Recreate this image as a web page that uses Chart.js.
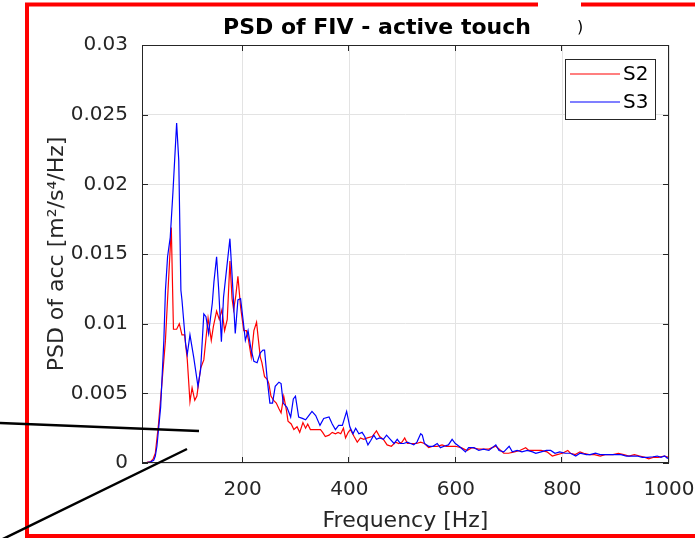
<!DOCTYPE html>
<html>
<head>
<meta charset="utf-8">
<script src="https://cdn.jsdelivr.net/npm/chart.js@4.4.1/dist/chart.umd.min.js"></script>
<style>
  html, body { margin: 0; padding: 0; background: #fff; }
  #wrap { width: 695px; height: 538px; }
</style>
</head>
<body>
<div id="wrap"><canvas id="psdChart" width="695" height="538"></canvas></div>
<script>
// values (Hz, m^2/s^4/Hz)
var freqS2 = [12, 20, 27, 32, 36, 42, 49, 55, 60, 66, 70, 76, 81, 86, 91, 96, 101, 105, 110, 114, 121, 127, 135, 141, 145, 151, 156, 161, 166, 171, 176, 180, 183, 187, 191, 196, 202, 207, 211, 216, 221, 226, 229, 233, 236, 241, 246, 249, 253, 258, 263, 268, 272, 277, 282, 285, 291, 296, 302, 307, 313, 318, 322, 327, 333, 340, 346, 350, 355, 362, 368, 374, 379, 384, 389, 393, 398, 402, 409, 415, 421, 427, 434, 443, 451, 457, 464, 471, 479, 487, 493, 499, 504, 509, 518, 526, 534, 541, 549, 557, 565, 574, 582, 590, 599, 610, 621, 630, 643, 655, 662, 668, 675, 681, 690, 699, 710, 720, 731, 737, 746, 760, 771, 781, 790, 800, 810, 815, 824, 833, 840, 850, 860, 871, 880, 895, 905, 915, 925, 935, 945, 955, 962, 970, 980, 991, 1000];
var psdS2 = [0, 0.00005, 0.0001, 0.0003, 0.0007, 0.0028, 0.006, 0.0088, 0.0125, 0.0169, 0.0096, 0.0096, 0.0100, 0.0092, 0.0092, 0.0074, 0.0044, 0.0054, 0.0045, 0.0048, 0.0068, 0.0074, 0.0104, 0.0088, 0.0098, 0.0109, 0.0103, 0.0110, 0.0095, 0.0103, 0.0145, 0.0118, 0.0110, 0.0120, 0.0134, 0.0112, 0.0095, 0.0095, 0.0088, 0.0076, 0.0095, 0.0101, 0.0090, 0.0076, 0.0072, 0.0062, 0.0060, 0.0057, 0.0048, 0.0045, 0.0043, 0.0039, 0.0036, 0.0048, 0.0038, 0.0030, 0.0028, 0.0024, 0.0026, 0.0022, 0.0029, 0.0025, 0.0028, 0.0024, 0.0024, 0.0024, 0.0024, 0.0022, 0.0019, 0.0020, 0.0022, 0.0021, 0.0022, 0.0021, 0.0025, 0.0018, 0.0022, 0.0024, 0.0019, 0.0015, 0.0018, 0.0017, 0.0018, 0.0019, 0.0023, 0.0019, 0.0017, 0.0013, 0.0012, 0.0015, 0.0014, 0.0015, 0.0018, 0.0014, 0.0014, 0.0014, 0.0015, 0.0014, 0.0011, 0.0012, 0.0012, 0.0013, 0.0012, 0.0012, 0.0012, 0.0011, 0.0009, 0.0011, 0.0010, 0.0010, 0.0010, 0.0011, 0.0012, 0.0010, 0.0007, 0.0007, 0.0008, 0.0009, 0.0011, 0.0009, 0.0009, 0.0009, 0.0008, 0.0005, 0.0006, 0.0007, 0.0009, 0.0007, 0.0006, 0.0008, 0.0007, 0.0006, 0.0006, 0.0005, 0.0006, 0.0006, 0.0007, 0.0006, 0.0005, 0.0006, 0.0005, 0.0004, 0.0003, 0.0004, 0.0004, 0.0005, 0.0004];

var freqS3 = [12, 20, 27, 33, 36, 39, 46, 52, 55, 59, 64, 69, 76, 80, 84, 86, 93, 96, 101, 108, 116, 121, 127, 131, 136, 143, 146, 151, 155, 160, 164, 170, 176, 180, 186, 191, 196, 200, 205, 210, 215, 221, 227, 233, 238, 241, 246, 251, 256, 261, 268, 272, 276, 283, 290, 295, 299, 305, 312, 318, 324, 330, 337, 345, 352, 362, 368, 374, 380, 387, 395, 401, 407, 412, 418, 424, 429, 435, 440, 446, 451, 457, 464, 470, 477, 484, 490, 496, 502, 509, 515, 521, 527, 534, 537, 541, 549, 557, 565, 571, 578, 586, 593, 599, 606, 612, 618, 624, 634, 643, 652, 662, 675, 681, 690, 700, 706, 715, 724, 734, 744, 750, 760, 770, 778, 786, 795, 805, 815, 825, 833, 845, 852, 862, 871, 880, 890, 900, 910, 920, 930, 940, 950, 960, 970, 978, 985, 992, 997, 1000];
var psdS3 = [0, 0.00003, 0.00008, 0.0002, 0.0005, 0.0012, 0.0040, 0.0088, 0.0124, 0.0148, 0.0162, 0.0194, 0.0244, 0.0217, 0.0124, 0.0117, 0.0085, 0.0078, 0.0092, 0.0076, 0.0055, 0.0067, 0.0107, 0.0105, 0.0093, 0.0115, 0.0130, 0.0148, 0.0124, 0.0087, 0.0119, 0.0140, 0.0161, 0.0135, 0.0093, 0.0117, 0.0118, 0.0105, 0.0088, 0.0095, 0.0083, 0.0073, 0.0072, 0.0079, 0.0081, 0.0081, 0.0060, 0.0043, 0.0043, 0.0055, 0.0058, 0.0057, 0.0043, 0.0040, 0.0033, 0.0046, 0.0048, 0.0033, 0.0032, 0.0031, 0.0034, 0.0037, 0.0034, 0.0027, 0.0032, 0.0033, 0.0028, 0.0024, 0.0027, 0.0027, 0.0037, 0.0026, 0.0021, 0.0025, 0.0021, 0.0022, 0.0019, 0.0013, 0.0016, 0.0020, 0.0017, 0.0018, 0.0017, 0.0020, 0.0017, 0.0014, 0.0017, 0.0014, 0.0014, 0.0015, 0.0014, 0.0013, 0.0015, 0.0021, 0.0020, 0.0014, 0.0012, 0.0012, 0.0014, 0.0011, 0.0012, 0.0013, 0.0017, 0.0014, 0.0012, 0.0010, 0.0008, 0.0011, 0.0011, 0.0009, 0.0010, 0.0009, 0.0013, 0.0009, 0.0008, 0.0012, 0.0008, 0.0009, 0.0008, 0.0009, 0.0008, 0.0007, 0.0008, 0.0009, 0.0009, 0.0007, 0.0008, 0.0007, 0.0007, 0.0005, 0.0007, 0.0006, 0.0006, 0.0007, 0.0006, 0.0006, 0.0006, 0.0006, 0.0006, 0.0005, 0.0005, 0.0005, 0.0004, 0.0004, 0.00045, 0.0005, 0.0004, 0.0005, 0.00034, 0.0004];

var xTicks = [200, 400, 600, 800, 1000];
var yTicks = [0, 0.005, 0.01, 0.015, 0.02, 0.025, 0.03];
var seriesNames = ['S2', 'S3'];

var FONT = 'DejaVu Sans, Liberation Sans, Arial, sans-serif';
var AXIS = '#262626';

function toPoints(xs, ys) {
    return xs.map(function (x, i) { return { x: x, y: ys[i] }; });
}

// MATLAB-like box, inward ticks, title, legend and the marks drawn on the screenshot
var decorations = {
    id: 'decorations',
    afterDatasetsDraw: function (chart) {
        var ctx = chart.ctx, a = chart.chartArea;
        var xs = chart.scales.x, ys = chart.scales.y;
        ctx.save();
        ctx.strokeStyle = AXIS;
        ctx.lineWidth = 1;
        ctx.strokeRect(Math.round(a.left) + 0.5, Math.round(a.top) + 0.5,
            Math.round(a.right - a.left) - 1, Math.round(a.bottom - a.top) - 1);
        ctx.beginPath();
        xs.ticks.forEach(function (t) {
            var px = Math.round(xs.getPixelForValue(t.value)) - 0.5;
            ctx.moveTo(px, a.bottom); ctx.lineTo(px, a.bottom - 6);
            ctx.moveTo(px, a.top); ctx.lineTo(px, a.top + 6);
        });
        ys.ticks.forEach(function (t) {
            var py = Math.round(ys.getPixelForValue(t.value)) + 0.5;
            ctx.moveTo(a.left, py); ctx.lineTo(a.left + 6, py);
            ctx.moveTo(a.right, py); ctx.lineTo(a.right - 6, py);
        });
        ctx.stroke();
        ctx.restore();
    },
    afterDraw: function (chart) {
        var ctx = chart.ctx;
        ctx.save();

        // title
        ctx.fillStyle = '#000';
        ctx.font = 'bold 22px ' + FONT;
        ctx.textAlign = 'center';
        ctx.textBaseline = 'middle';
        ctx.fillText('PSD of FIV - active touch', 377, 28);
        ctx.font = '16px ' + FONT;
        ctx.fillText(')', 580, 28);

        // legend
        var lx = 565, ly = 59, lw = 90, lh = 60;
        ctx.fillStyle = '#fff';
        ctx.fillRect(lx, ly, lw, lh);
        ctx.strokeStyle = AXIS;
        ctx.lineWidth = 1;
        ctx.strokeRect(lx + 0.5, ly + 0.5, lw, lh);
        chart.data.datasets.forEach(function (ds, i) {
            var yy = 74 + i * 28;
            ctx.strokeStyle = ds.borderColor;
            ctx.lineWidth = 1.2;
            ctx.beginPath();
            ctx.moveTo(570, yy); ctx.lineTo(620, yy);
            ctx.stroke();
            ctx.fillStyle = '#000';
            ctx.font = '20px ' + FONT;
            ctx.textAlign = 'left';
            ctx.fillText(seriesNames[i], 623, yy + 1);
        });

        // red frame
        ctx.strokeStyle = '#ff0000';
        ctx.lineWidth = 4;
        ctx.beginPath();
        ctx.moveTo(695, 4.5); ctx.lineTo(27, 4.5); ctx.lineTo(27, 536); ctx.lineTo(695, 536);
        ctx.stroke();
        ctx.fillStyle = '#fff';
        ctx.fillRect(538, 0, 43, 10);

        // black strokes
        ctx.strokeStyle = '#000';
        ctx.lineWidth = 2.5;
        ctx.beginPath();
        ctx.moveTo(0, 423); ctx.lineTo(199, 431);
        ctx.moveTo(0, 540.4); ctx.lineTo(187, 449);
        ctx.stroke();

        ctx.restore();
    }
};

var chart = new Chart(document.getElementById('psdChart'), {
    type: 'line',
    data: {
        datasets: [{
            label: seriesNames[0],
            data: toPoints(freqS2, psdS2),
            borderColor: '#ff0000',
            borderWidth: 1.2,
            pointRadius: 0,
            tension: 0,
            order: 2
        }, {
            label: seriesNames[1],
            data: toPoints(freqS3, psdS3),
            borderColor: '#0000ff',
            borderWidth: 1.2,
            pointRadius: 0,
            tension: 0,
            order: 1
        }]
    },
    options: {
        responsive: false,
        animation: false,
        devicePixelRatio: 1,
        layout: { padding: { top: 45, right: 26, left: 0, bottom: 0 } },
        plugins: {
            legend: { display: false },
            title: { display: false },
            tooltip: { enabled: false }
        },
        scales: {
            x: {
                type: 'linear',
                min: 11,
                max: 1000,
                afterBuildTicks: function (s) { s.ticks = xTicks.map(function (v) { return { value: v }; }); },
                afterFit: function (s) { s.height = 75; s.paddingLeft = 0; s.paddingRight = 0; },
                grid: { color: '#e3e3e3', drawTicks: false },
                border: { display: false },
                ticks: {
                    padding: 15, color: AXIS, font: { family: FONT, size: 20 }, maxRotation: 0, autoSkip: false,
                    callback: function (v) { return String(v); }
                },
                title: {
                    display: true, text: 'Frequency [Hz]', color: AXIS,
                    font: { family: FONT, size: 22 }, padding: { top: 0, bottom: 4 }
                }
            },
            y: {
                min: 0,
                max: 0.03,
                afterBuildTicks: function (s) { s.ticks = yTicks.map(function (v) { return { value: v }; }); },
                afterFit: function (s) { s.width = 142; s.paddingTop = 0; s.paddingBottom = 0; },
                grid: { color: '#e3e3e3', drawTicks: false },
                border: { display: false },
                ticks: {
                    padding: 14, color: AXIS, font: { family: FONT, size: 20 },
                    callback: function (v) { return String(+v.toFixed(4)); }
                },
                title: {
                    display: true, text: 'PSD of acc [m²/s⁴/Hz]', color: AXIS,
                    font: { family: FONT, size: 22 }, padding: { top: 44, bottom: 0 }
                }
            }
        }
    },
    plugins: [decorations]
});
</script>
</body>
</html>
